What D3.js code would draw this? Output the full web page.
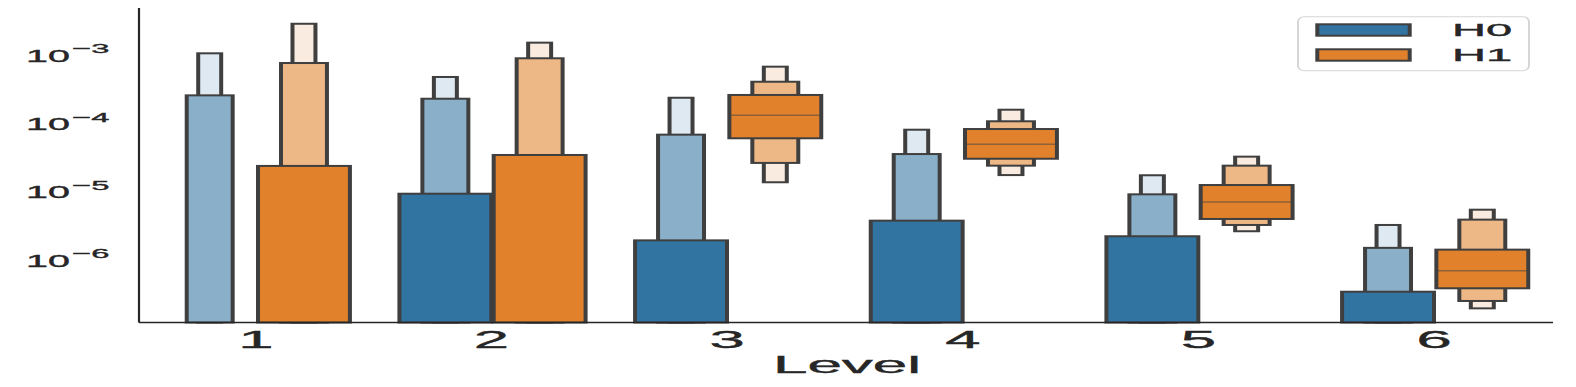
<!DOCTYPE html>
<html><head><meta charset="utf-8">
<script src="https://cdn.jsdelivr.net/npm/d3@7"></script>
<style>body{margin:0;background:#fff} svg{display:block}</style>
</head><body>
<svg id="c" width="1576" height="387"></svg>
<script>
// ---- data ----
const levels = ["1","2","3","4","5","6"];
const hues = ["H0","H1"];
const yTicks = [1e-3, 1e-4, 1e-5, 1e-6];
const yTickBase = ["10","10","10","10"];
const yTickExp = ["\u22123","\u22124","\u22125","\u22126"];
const xLabel = "Level";
// letter values [lo, hi]: IQR box, 2nd level, 3rd level (0 = below axis)
const h0IQR = [[0,0],[0,8.43e-6],[0,1.75e-6],[0,3.40e-6],[0,2.01e-6],[0,3.10e-7]];
const h0LV2 = [[0,2.32e-4],[0,2.07e-4],[0,6.17e-5],[0,3.21e-5],[0,8.26e-6],[0,1.36e-6]];
const h0LV3 = [[0,9.57e-4],[0,4.31e-4],[0,2.14e-4],[0,7.29e-5],[0,1.57e-5],[0,2.94e-6]];
const h0Median = [0,0,0,0,0,0];
const h1IQR = [[0,2.15e-5],[0,3.11e-5],[5.46e-5,2.35e-4],[2.74e-5,7.46e-5],[3.60e-6,1.13e-5],[3.48e-7,1.28e-6]];
const h1LV2 = [[0,6.90e-4],[0,8.09e-4],[2.38e-5,3.67e-4],[2.17e-5,9.68e-5],[2.94e-6,2.17e-5],[2.27e-7,3.52e-6]];
const h1LV3 = [[0,2.59e-3],[0,1.37e-3],[1.24e-5,6.10e-4],[1.58e-5,1.43e-4],[2.38e-6,2.94e-5],[1.77e-7,4.92e-6]];
const h1Median = [0,0,1.19e-4,4.46e-5,6.38e-6,6.30e-7];
const h0Colors = ["#3274a1","#8aafc9","#dfe9f1"];
const h1Colors = ["#e1812c","#eeb786","#f9ebdf"];

// ---- layout ----
const SX = 2;             // horizontal stretch of the plot drawing
const pLeft = 139, pRight = 1553, pTop = 8, pBottom = 322.5;
const ink = "#3f3f3f", textCol = "#262626";
const font = "'Liberation Sans', Arial, sans-serif";

const svg = d3.select("#c");
const g = svg.append("g").attr("transform", `scale(${SX},1)`);

const x = d3.scaleBand().domain(levels).range([pLeft / SX, pRight / SX]).padding(0);
const y = d3.scaleLog().domain([Math.pow(10, -6.959), Math.pow(10, -2.356)]).range([pBottom, pTop]).clamp(true);
const hueOff = d3.scaleOrdinal().domain(hues).range([-0.2, 0.2]);
const bw = x.bandwidth();
const boxW = 0.39 * bw;
const widthFrac = [1, 0.5, 0.25];
const yMin = y.domain()[0];

const series = [
  {hue: "H0", lv: [h0IQR, h0LV2, h0LV3], med: h0Median, colors: h0Colors},
  {hue: "H1", lv: [h1IQR, h1LV2, h1LV3], med: h1Median, colors: h1Colors}
];

series.forEach(s => {
  levels.forEach((L, i) => {
    const cx = x(L) + bw / 2 + hueOff(s.hue) * bw;
    for (let k = 2; k >= 0; k--) {
      const [lo, hi] = s.lv[k][i];
      if (hi <= yMin) continue;
      const w = boxW * widthFrac[k];
      g.append("rect")
        .attr("x", cx - w / 2).attr("width", w)
        .attr("y", y(hi)).attr("height", y(lo) - y(hi))
        .attr("fill", s.colors[k]).attr("stroke", ink).attr("stroke-width", 2);
    }
    const m = s.med[i];
    if (m > yMin) {
      g.append("line")
        .attr("x1", cx - boxW / 2).attr("x2", cx + boxW / 2)
        .attr("y1", y(m)).attr("y2", y(m))
        .attr("stroke", "#3f3f3f").attr("stroke-opacity", 0.5).attr("stroke-width", 1.5);
    }
  });
});

// axes spines
g.append("line").attr("x1", pLeft / SX).attr("x2", pLeft / SX).attr("y1", pTop).attr("y2", pBottom)
  .attr("stroke", textCol).attr("stroke-width", 1.1);
g.append("line").attr("x1", pLeft / SX).attr("x2", pRight / SX).attr("y1", pBottom).attr("y2", pBottom)
  .attr("stroke", textCol).attr("stroke-width", 1.3);

// stretched text helper (final pixel coordinates)
function stext(px, py, anchor, size, tx) {
  return svg.append("g").attr("transform", `translate(${px},${py}) scale(${tx},1)`)
    .append("text").attr("x", 0).attr("y", 0).attr("text-anchor", anchor)
    .attr("font-family", font).attr("font-size", size).attr("fill", textCol)
    .attr("stroke", textCol).attr("stroke-width", 0.35);
}

// y tick labels
yTicks.forEach((t, i) => {
  const tx = stext(109.5, y(t) + 9.7, "end", 16.3, 2.42);
  tx.append("tspan").text(yTickBase[i]);
  tx.append("tspan").attr("font-size", 13.5).attr("dy", -8.4).attr("dx", 1).text(yTickExp[i]);
});

// x tick labels
levels.forEach(L => {
  stext((x(L) + bw / 2) * SX - 1, 348.3, "middle", 23.5, 2.7).text(L);
});

// x axis title
stext((pLeft + pRight) / 2 + 1, 373.3, "middle", 23.3, 2.66).text(xLabel);

// legend
const lg = g.append("g");
lg.append("rect").attr("x", 1298 / SX).attr("y", 16.7).attr("width", (1529 - 1298) / SX).attr("height", 54)
  .attr("rx", 3).attr("ry", 5).attr("fill", "#fff").attr("stroke", "#d6d6d6").attr("stroke-width", 1);
hues.forEach((h, i) => {
  lg.append("rect").attr("x", 1317.3 / SX).attr("width", (1409.7 - 1317.3) / SX)
    .attr("y", 24.3 + i * 25).attr("height", 11.4)
    .attr("fill", series[i].colors[0]).attr("stroke", ink).attr("stroke-width", 2);
  stext(1452, 36 + i * 25, "start", 16.8, 2.8).text(h);
});
</script>
</body></html>
